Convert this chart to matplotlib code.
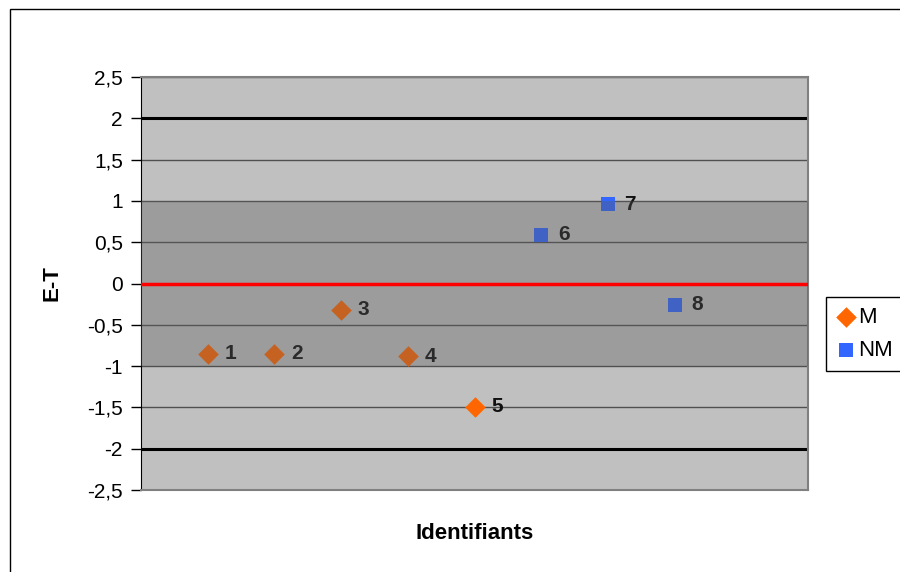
import numpy as np
import matplotlib.pyplot as plt
from matplotlib.patches import Rectangle

plt.rcParams['font.family'] = ['Liberation Sans', 'DejaVu Sans']
plt.rcParams['hatch.linewidth'] = 0.5

# valeurs E-T par identifiant
ids_m = [1, 2, 3, 4, 5]
et_m = [-0.85, -0.85, -0.32, -0.88, -1.49]
ids_nm = [6, 7, 8]
et_nm = [0.59, 0.96, -0.26]
yticks = [-2.5, -2, -1.5, -1, -0.5, 0, 0.5, 1, 1.5, 2, 2.5]

fig = plt.figure(figsize=(9, 5.72), dpi=100)
ax = fig.add_axes([141 / 900, 82 / 572, 667 / 900, 413 / 572])
ax.set_facecolor('#C0C0C0')

# cadre autour du graphique
fig.patches.append(Rectangle((10 / 900, -0.1), 1.2, 1.1 - 9 / 572, transform=fig.transFigure,
                             fill=False, edgecolor='black', linewidth=1))

for y in yticks:
    ax.axhline(y, color='#505050', linewidth=1, zorder=1)
ax.axhline(2, color='black', linewidth=2.2, zorder=2)
ax.axhline(-2, color='black', linewidth=2.2, zorder=2)
ax.axhline(0, color='#FF0000', linewidth=2.5, zorder=5)

ax.scatter(ids_m, et_m, marker='D', s=110, color='#FF6600', zorder=3, label='M', linewidths=0)
ax.scatter(ids_nm, et_nm, marker='s', s=110, color='#3366FF', zorder=3, label='NM', linewidths=0)

for x, y in zip(ids_m + ids_nm, et_m + et_nm):
    ax.annotate(str(x), (x, y), xytext=(12, 0), textcoords='offset points',
                fontsize=15, fontweight='bold', va='center', ha='left', color='#101010', zorder=3)

# zone entre -1 et 1
ax.axhspan(-1, 1, facecolor=(0.45, 0.45, 0.45, 0.08), hatch='+' * 16,
           edgecolor=(0.35, 0.35, 0.35, 0.3), linewidth=0, zorder=4)

ax.set_xlim(0, 10)
ax.set_ylim(-2.5, 2.5)
ax.set_xticks([])
ax.set_yticks(yticks)
ax.set_yticklabels([f'{v:g}'.replace('.', ',') for v in yticks], fontsize=15)
ax.tick_params(axis='y', length=7, width=1, pad=6)

for side in ['top', 'right', 'bottom']:
    ax.spines[side].set_color('#808080')
    ax.spines[side].set_linewidth(1.5)
ax.spines['left'].set_color('black')

ax.set_ylabel('E-T', fontsize=16, fontweight='bold', labelpad=18)
ax.set_xlabel('Identifiants', fontsize=16, fontweight='bold', labelpad=24)

fig.legend(loc='center left', bbox_to_anchor=(826 / 900, 1 - 334 / 572), fontsize=16,
           frameon=True, fancybox=False, edgecolor='black', framealpha=1,
           handletextpad=0.1, handlelength=0.9, borderpad=0.45, labelspacing=0.55,
           borderaxespad=0)

fig.savefig('out.png', dpi=100)
